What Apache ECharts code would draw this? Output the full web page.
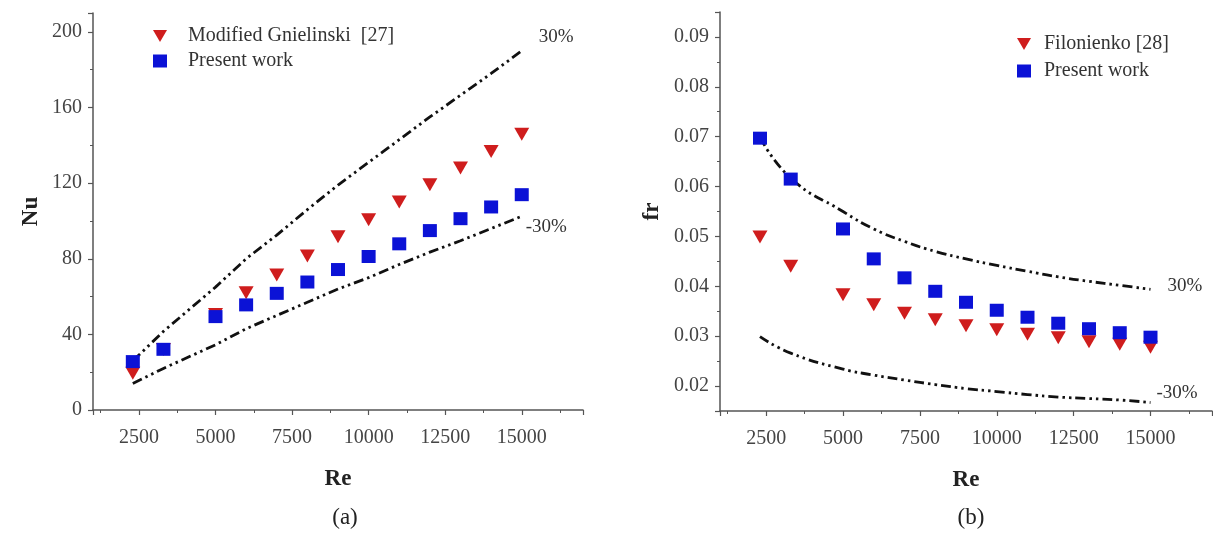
<!DOCTYPE html>
<html>
<head>
<meta charset="utf-8">
<title>Nu and fr versus Re</title>
<script src="https://cdn.jsdelivr.net/npm/echarts@6/dist/echarts.min.js"></script>
<style>
  html, body { margin: 0; padding: 0; background: #fff; }
  #chart { width: 1213px; height: 533px; }
</style>
</head>
<body>
<div id="chart"></div>
<script>
// Reynolds numbers used in both panels
const reValues = [2300, 3300, 5000, 6000, 7000, 8000, 9000, 10000, 11000, 12000, 13000, 14000, 15000];

// (a) Nusselt number
const nuGnielinski = [19.5, 32, 50.5, 62, 71.4, 81.4, 91.6, 100.7, 110, 119.2, 128, 136.7, 145.9];
const nuPresent = [25.6, 32.1, 49.4, 55.6, 61.7, 67.7, 74.3, 81.2, 87.9, 94.9, 101.2, 107.4, 113.9];
const nuPlus30 = [26, 41.6, 65, 80, 92.5, 106, 119, 131, 143, 155, 166.5, 178, 190];
const nuMinus30 = [14, 22, 34.5, 43, 50, 57, 64, 70, 77, 83.5, 89.5, 96, 102.5];

// (b) friction factor
const frFilonienko = [0.0499, 0.044, 0.0383, 0.0363, 0.0346, 0.0333, 0.0321, 0.0313, 0.0304, 0.0297, 0.0289, 0.0284, 0.0278];
const frPresent = [0.0697, 0.0615, 0.0515, 0.0455, 0.0417, 0.039, 0.0368, 0.0352, 0.0338, 0.0326, 0.0315, 0.0307, 0.0298];
const frPlus30 = [0.0699, 0.0617, 0.055, 0.0515, 0.049, 0.047, 0.0455, 0.0442, 0.043, 0.0419, 0.041, 0.0402, 0.0394];
const frMinus30 = [0.0299, 0.0266, 0.0234, 0.0222, 0.0212, 0.0203, 0.0195, 0.0189, 0.0183, 0.0178, 0.0175, 0.0172, 0.0167];

const pair = (ys) => reValues.map((x, i) => [x, ys[i]]);

const FONT = 'Liberation Serif';
const RED = '#cf1d1d';
const BLUE = '#0b12d6';
const TRI = 'path://M0,0L10,0L5,8.7Z';

function xAxisOf(gridIndex) {
  return {
    type: 'value',
    gridIndex: gridIndex,
    min: 1000,
    max: 17000,
    minInterval: 2500,
    maxInterval: 2500,
    name: 'Re',
    nameLocation: 'middle',
    nameGap: 58,
    nameTextStyle: { fontFamily: FONT, fontSize: 23, fontWeight: 'bold', color: '#222' },
    axisLine: { lineStyle: { color: '#555', width: 1.5 } },
    axisTick: { length: 5, lineStyle: { color: '#555', width: 1.2 } },
    minorTick: { show: true, splitNumber: 2, length: 3, lineStyle: { color: '#555', width: 1 } },
    splitLine: { show: false },
    axisLabel: {
      fontFamily: FONT, fontSize: 20, color: '#444', margin: 18,
      showMinLabel: false, showMaxLabel: false,
      formatter: (v) => String(v)
    }
  };
}

function yAxisOf(gridIndex, name, min, max, step, fmt) {
  return {
    type: 'value',
    gridIndex: gridIndex,
    min: min,
    max: max,
    minInterval: step,
    maxInterval: step,
    name: name,
    nameLocation: 'middle',
    nameGap: gridIndex === 0 ? 50 : 56,
    nameRotate: 90,
    nameTextStyle: { fontFamily: FONT, fontSize: 23, fontWeight: 'bold', color: '#222' },
    axisLine: { show: true, lineStyle: { color: '#555', width: 1.5 } },
    axisTick: { show: true, length: 5, lineStyle: { color: '#555', width: 1.2 } },
    minorTick: { show: true, splitNumber: 2, length: 3, lineStyle: { color: '#555', width: 1 } },
    splitLine: { show: false },
    axisLabel: {
      fontFamily: FONT, fontSize: 20, color: '#444', margin: 11,
      showMinLabel: gridIndex === 0, showMaxLabel: false,
      formatter: fmt
    }
  };
}

function bound(name, xi, yi, data, label, offset, smooth) {
  return {
    name: name,
    type: 'line',
    xAxisIndex: xi,
    yAxisIndex: yi,
    data: data,
    smooth: smooth,
    showSymbol: false,
    z: 1,
    lineStyle: { color: '#111', width: 2.8, type: [10, 4, 2.5, 4, 2.5, 4] },
    endLabel: {
      show: true,
      formatter: label,
      offset: offset,
      fontFamily: FONT, fontSize: 19, color: '#333'
    }
  };
}

function markers(name, xi, yi, data, color, symbol, size) {
  return {
    name: name,
    type: 'scatter',
    xAxisIndex: xi,
    yAxisIndex: yi,
    data: data,
    symbol: symbol,
    symbolSize: size,
    z: 3,
    itemStyle: { color: color, opacity: 1 }
  };
}

const chart = echarts.init(document.getElementById('chart'));
chart.setOption({
  animation: false,
  backgroundColor: '#fff',
  title: [
    { text: '(a)', left: 340, top: 501, textAlign: 'center',
      textStyle: { fontFamily: FONT, fontSize: 23, fontWeight: 'normal', color: '#222' } },
    { text: '(b)', left: 966, top: 501, textAlign: 'center',
      textStyle: { fontFamily: FONT, fontSize: 23, fontWeight: 'normal', color: '#222' } }
  ],
  grid: [
    { left: 93, top: 13, width: 490, height: 397 },
    { left: 720, top: 12, width: 492, height: 399 }
  ],
  legend: [
    {
      data: ['Modified Gnielinski  [27]', 'Present work'],
      orient: 'vertical', left: 148, top: 21,
      itemWidth: 14, itemHeight: 13, itemGap: 5,
      textStyle: { fontFamily: FONT, fontSize: 20, color: '#333', padding: [0, 0, 0, 16] }
    },
    {
      data: ['Filonienko [28]', 'Present work'],
      orient: 'vertical', left: 1012, top: 29,
      itemWidth: 14, itemHeight: 13, itemGap: 7,
      textStyle: { fontFamily: FONT, fontSize: 20, color: '#333', padding: [0, 0, 0, 8] }
    }
  ],
  xAxis: [xAxisOf(0), xAxisOf(1)],
  yAxis: [
    yAxisOf(0, 'Nu', 0, 210, 40, (v) => String(v)),
    yAxisOf(1, 'fr', 0.015, 0.095, 0.01, (v) => v.toFixed(2))
  ],
  series: [
    bound('nu+30', 0, 0, pair(nuPlus30), '30%', [9, -14], false),
    bound('nu-30', 0, 0, pair(nuMinus30), '-30%', [-4, 11], false),
    markers('Modified Gnielinski  [27]', 0, 0, pair(nuGnielinski), RED, TRI, [15, 13]),
    markers('Present work', 0, 0, pair(nuPresent), BLUE, 'rect', [14, 13]),
    bound('fr+30', 1, 1, pair(frPlus30), '30%', [9, -3], true),
    bound('fr-30', 1, 1, pair(frMinus30), '-30%', [-2, -10], true),
    markers('Filonienko [28]', 1, 1, pair(frFilonienko), RED, TRI, [15, 13]),
    markers('Present work', 1, 1, pair(frPresent), BLUE, 'rect', [14, 13])
  ]
});
</script>
</body>
</html>
